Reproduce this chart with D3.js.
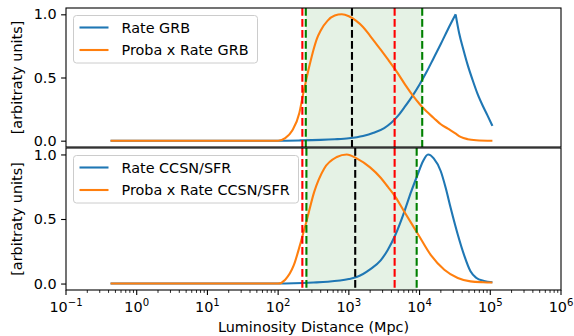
<!DOCTYPE html>
<html><head><meta charset="utf-8">
<script src="https://cdn.jsdelivr.net/npm/d3@7"></script>
<style>body{margin:0;background:#fff}svg{display:block}text{font-family:"DejaVu Sans",sans-serif}</style>
</head><body><svg id="c" width="574" height="336"></svg>
<script>
// ---- data (log10 of distance in Mpc, value in arbitrary units) ----
const grbLog   = [-0.37,1,2,2.3,2.6,2.8,3.0,3.2,3.35,3.5,3.6,3.7,3.8,3.9,4.0,4.1,4.2,4.3,4.4,4.51,4.56,4.62,4.68,4.75,4.82,4.89,4.96,5.03];
const grbRate  = [0,0,0,0.002,0.006,0.011,0.019,0.037,0.062,0.1,0.142,0.2,0.275,0.355,0.445,0.545,0.655,0.765,0.88,1.0,0.85,0.72,0.6,0.48,0.37,0.28,0.2,0.117];
const grbPLog  = [-0.37,1,2.0,2.1,2.2,2.3,2.35,2.4,2.45,2.5,2.55,2.6,2.7,2.8,2.9,3.0,3.1,3.2,3.3,3.45,3.55,3.66,3.8,3.9,4.0,4.1,4.2,4.3,4.4,4.5,4.58,4.68,4.8,5.03];
const grbProba = [0,0,0,0.02,0.08,0.22,0.36,0.49,0.61,0.72,0.81,0.87,0.95,0.99,1.0,0.985,0.95,0.9,0.83,0.72,0.645,0.56,0.44,0.36,0.29,0.23,0.18,0.13,0.095,0.06,0.03,0.012,0.004,0];
const ccLog    = [-0.37,1,2,2.5,2.7,3.0,3.11,3.3,3.45,3.55,3.66,3.78,3.88,3.97,4.05,4.12,4.2,4.3,4.37,4.44,4.54,4.63,4.72,4.8,4.91,5.03];
const ccRate   = [0,0,0,0.008,0.014,0.035,0.05,0.11,0.18,0.26,0.38,0.55,0.71,0.84,0.95,1.0,0.97,0.87,0.74,0.585,0.38,0.22,0.095,0.045,0.02,0.01];
const ccPLog   = [-0.37,1,2.0,2.1,2.22,2.32,2.4,2.51,2.65,2.83,2.97,3.11,3.3,3.45,3.55,3.66,3.78,3.97,4.16,4.35,4.54,4.72,4.9,5.03];
const ccProba  = [0,0,0,0.03,0.14,0.32,0.48,0.71,0.89,0.98,1.0,0.97,0.9,0.82,0.75,0.67,0.56,0.39,0.22,0.107,0.043,0.017,0.01,0.008];
const grbVlines = [{d:220,c:"#ff0000"},{d:246,c:"#008000"},{d:1107,c:"#000000"},{d:4440,c:"#ff0000"},{d:10900,c:"#008000"}];
const ccVlines  = [{d:220,c:"#ff0000"},{d:251,c:"#008000"},{d:1230,c:"#000000"},{d:4440,c:"#ff0000"},{d:9100,c:"#008000"}];
const grbSpan = [246,10900];
const ccSpan  = [251,9100];
const yTicks = [0.0,0.5,1.0];
const xTicks = [-1,0,1,2,3,4,5,6];
const labelsTop = ["Rate GRB","Proba x Rate GRB"];
const labelsBot = ["Rate CCSN/SFR","Proba x Rate CCSN/SFR"];

const svg = d3.select("#c");
const L=66, R=561;
const x = d3.scaleLog().domain([0.1,1e6]).range([L,R]);
const FS = 14.4;
const blue="#1f77b4", orange="#ff7f0e";

function panel(top,bottom,series,vlines,span,labels,showX,legendW){
  const y = d3.scaleLinear().domain([-0.05,1.05]).range([bottom,top]);
  const g = svg.append("g");
  const clipId = "clip"+top;
  svg.append("clipPath").attr("id",clipId).append("rect").attr("x",L).attr("y",top).attr("width",R-L).attr("height",bottom-top);
  g.append("rect").attr("x",L).attr("y",top).attr("width",R-L).attr("height",bottom-top).attr("fill","#fff");
  const inner = g.append("g").attr("clip-path",`url(#${clipId})`);
  inner.append("rect").attr("x",x(span[0])).attr("y",top).attr("width",x(span[1])-x(span[0])).attr("height",bottom-top).attr("fill","#008000").attr("fill-opacity",0.1);
  series.forEach(s=>{
    const pts = s.lx.map((v,i)=>[Math.pow(10,v),s.v[i]]);
    const parts = [];
    if(s.cusp){
      const k = d3.maxIndex(pts,d=>d[1]);
      parts.push(pts.slice(0,k+1), pts.slice(k));
    } else parts.push(pts);
    const line = d3.line().x(d=>x(d[0])).y(d=>y(d[1])).curve(d3.curveMonotoneX);
    inner.append("path").attr("fill","none").attr("stroke",s.c).attr("stroke-width",2.1)
      .attr("stroke-linejoin","miter").attr("stroke-linecap","butt")
      .attr("d",parts.map(p=>line(p)).join(""));
  });
  vlines.forEach(v=>{
    inner.append("line").attr("x1",x(v.d)).attr("x2",x(v.d)).attr("y1",top).attr("y2",bottom)
      .attr("stroke",v.c).attr("stroke-width",2.1).attr("stroke-dasharray","7.7,3.3");
  });
  const ya = d3.axisLeft(y).tickValues(yTicks).tickFormat(d3.format(".1f")).tickSize(4.9).tickPadding(4.5);
  const yg = g.append("g").attr("transform",`translate(${L},0)`).call(ya);
  yg.select(".domain").remove();
  yg.selectAll("line").attr("stroke-width",1.1);
  yg.selectAll("text").attr("font-size",FS).attr("font-family","DejaVu Sans").attr("fill","#000");
  if(showX){
    const xg = g.append("g").attr("transform",`translate(0,${bottom})`);
    for(let e=-1;e<6;e++){
      for(let m=2;m<=9;m++){
        const xv=x(m*Math.pow(10,e));
        xg.append("line").attr("x1",xv).attr("x2",xv).attr("y1",0).attr("y2",2.9).attr("stroke","#000").attr("stroke-width",0.85);
      }
    }
    xTicks.forEach(e=>{
      const xv=x(Math.pow(10,e));
      xg.append("line").attr("x1",xv).attr("x2",xv).attr("y1",0).attr("y2",4.9).attr("stroke","#000").attr("stroke-width",1.1);
      const t=xg.append("text").attr("x",xv).attr("y",21.5).attr("text-anchor","middle").attr("font-size",FS);
      t.append("tspan").text("10");
      t.append("tspan").attr("font-size",10.1).attr("dy",-6).text(e<0?"\u2212"+Math.abs(e):String(e));
    });
  }
  g.append("rect").attr("x",L).attr("y",top).attr("width",R-L).attr("height",bottom-top).attr("fill","none").attr("stroke","#000").attr("stroke-width",1.1);
  svg.append("text").attr("transform",`translate(22,${(top+bottom)/2}) rotate(-90)`).attr("text-anchor","middle").attr("font-size",FS).text("[arbitraty units]");
  const lx=L+7.5, ly=top+7.5, lh=47.5;
  const lg=g.append("g");
  lg.append("rect").attr("x",lx).attr("y",ly).attr("width",legendW).attr("height",lh).attr("rx",3).attr("fill","#fff").attr("fill-opacity",0.8).attr("stroke","#cccccc").attr("stroke-width",1);
  labels.forEach((lab,i)=>{
    const cy=ly+12+i*22.5;
    lg.append("line").attr("x1",lx+6).attr("x2",lx+35).attr("y1",cy).attr("y2",cy).attr("stroke",i?orange:blue).attr("stroke-width",2.1);
    lg.append("text").attr("x",lx+48).attr("y",cy+5).attr("font-size",FS).text(lab);
  });
}

panel(8,147,[{lx:grbLog,v:grbRate,c:blue,cusp:true},{lx:grbPLog,v:grbProba,c:orange}],grbVlines,grbSpan,labelsTop,false,184);
panel(148,290,[{lx:ccLog,v:ccRate,c:blue},{lx:ccPLog,v:ccProba,c:orange}],ccVlines,ccSpan,labelsBot,true,225);

svg.append("text").attr("x",(L+R)/2).attr("y",332).attr("text-anchor","middle").attr("font-size",FS).text("Luminosity Distance (Mpc)");
</script></body></html>
